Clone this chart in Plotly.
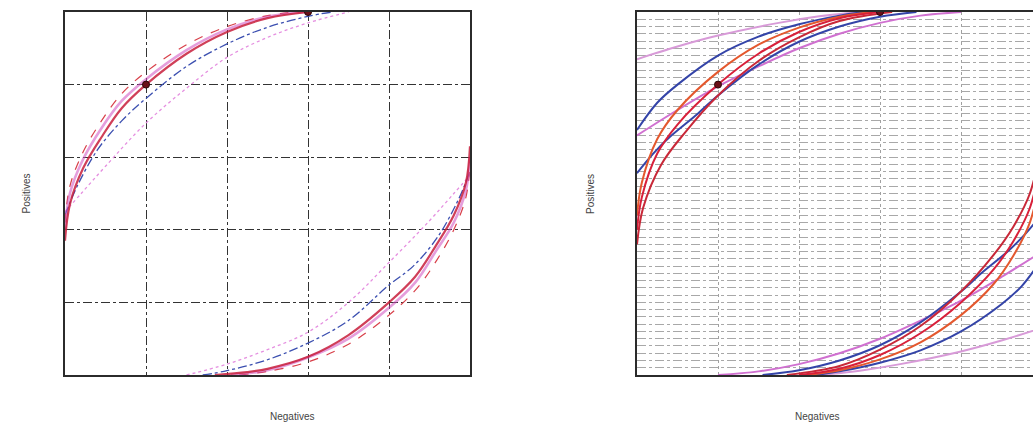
import plotly.graph_objects as go

W, H = 1033, 430

# ---------------- LEFT PANEL DATA (upper-left arc / lower-right arc) ----------------
L_red_ul_x = [0.0, 0.012, 0.045, 0.09, 0.14, 0.2, 0.3, 0.4, 0.5, 0.6]
L_red_ul_y = [0.37, 0.47, 0.57, 0.655, 0.735, 0.80, 0.885, 0.945, 0.983, 1.0]
L_red_lr_x = [0.37, 0.45, 0.5, 0.6, 0.7, 0.8, 0.864, 0.914, 0.96, 0.99, 1.0]
L_red_lr_y = [0.0, 0.008, 0.017, 0.05, 0.11, 0.20, 0.27, 0.353, 0.44, 0.53, 0.63]

L_redd_ul_x = [0.0, 0.012, 0.045, 0.09, 0.14, 0.2, 0.3, 0.4, 0.5, 0.57]
L_redd_ul_y = [0.42, 0.52, 0.615, 0.70, 0.775, 0.835, 0.91, 0.96, 0.99, 1.0]
L_redd_lr_x = [0.43, 0.5, 0.6, 0.7, 0.8, 0.87, 0.92, 0.96, 0.99, 1.0]
L_redd_lr_y = [0.0, 0.01, 0.036, 0.085, 0.165, 0.24, 0.32, 0.40, 0.49, 0.58]

L_mag_ul_x = [0.0, 0.012, 0.045, 0.09, 0.14, 0.2, 0.3, 0.4, 0.5, 0.59]
L_mag_ul_y = [0.40, 0.50, 0.595, 0.68, 0.755, 0.815, 0.895, 0.952, 0.987, 1.0]
L_mag_lr_x = [0.41, 0.5, 0.6, 0.7, 0.8, 0.865, 0.915, 0.96, 0.99, 1.0]
L_mag_lr_y = [0.0, 0.013, 0.048, 0.1, 0.185, 0.255, 0.34, 0.42, 0.51, 0.60]

L_blue_ul_x = [0.0, 0.03, 0.08, 0.14, 0.2, 0.3, 0.4, 0.5, 0.6, 0.66]
L_blue_ul_y = [0.44, 0.52, 0.62, 0.70, 0.762, 0.85, 0.912, 0.958, 0.988, 1.0]
L_blue_lr_x = [0.34, 0.4, 0.5, 0.6, 0.7, 0.8, 0.86, 0.92, 0.97, 1.0]
L_blue_lr_y = [0.0, 0.012, 0.042, 0.088, 0.15, 0.248, 0.30, 0.38, 0.48, 0.56]

L_pink_ul_x = [0.0, 0.04, 0.1, 0.2, 0.3, 0.4, 0.5, 0.6, 0.7]
L_pink_ul_y = [0.45, 0.50, 0.575, 0.694, 0.79, 0.875, 0.93, 0.97, 1.0]
L_pink_lr_x = [0.3, 0.4, 0.5, 0.6, 0.7, 0.8, 0.9, 0.96, 1.0]
L_pink_lr_y = [0.0, 0.03, 0.07, 0.118, 0.2, 0.31, 0.425, 0.5, 0.55]

# ---------------- RIGHT PANEL DATA ----------------
R_bo_ul_x = [0.0, 0.05, 0.1, 0.2, 0.3, 0.4, 0.5, 0.56]
R_bo_ul_y = [0.675, 0.75, 0.80, 0.88, 0.932, 0.966, 0.99, 1.0]
R_bo_lr_x = [0.44, 0.5, 0.6, 0.7, 0.8, 0.9, 0.95, 1.0]
R_bo_lr_y = [0.0, 0.01, 0.034, 0.068, 0.12, 0.195, 0.245, 0.32]

R_or_ul_x = [0.0, 0.012, 0.05, 0.1, 0.2, 0.3, 0.4, 0.5, 0.58]
R_or_ul_y = [0.44, 0.53, 0.65, 0.73, 0.835, 0.91, 0.957, 0.987, 1.0]
R_or_lr_x = [0.42, 0.5, 0.6, 0.7, 0.8, 0.88, 0.93, 0.97, 1.0]
R_or_lr_y = [0.0, 0.013, 0.043, 0.09, 0.165, 0.25, 0.33, 0.42, 0.56]

R_rd_ul_x = [0.0, 0.012, 0.05, 0.1, 0.2, 0.3, 0.4, 0.5, 0.6]
R_rd_ul_y = [0.40, 0.49, 0.61, 0.69, 0.80, 0.885, 0.945, 0.983, 1.0]
R_rd_lr_x = [0.4, 0.5, 0.6, 0.7, 0.8, 0.88, 0.93, 0.97, 1.0]
R_rd_lr_y = [0.0, 0.017, 0.055, 0.115, 0.20, 0.29, 0.37, 0.46, 0.60]

R_cr_ul_x = [0.0, 0.015, 0.06, 0.12, 0.2, 0.3, 0.4, 0.5, 0.63]
R_cr_ul_y = [0.36, 0.46, 0.58, 0.67, 0.77, 0.865, 0.93, 0.975, 1.0]
R_cr_lr_x = [0.37, 0.5, 0.6, 0.7, 0.8, 0.88, 0.93, 0.97, 1.0]
R_cr_lr_y = [0.0, 0.025, 0.07, 0.135, 0.23, 0.33, 0.41, 0.50, 0.64]

R_bi_ul_x = [0.0, 0.04, 0.08, 0.15, 0.2, 0.3, 0.4, 0.5, 0.6, 0.69]
R_bi_ul_y = [0.556, 0.61, 0.655, 0.72, 0.77, 0.855, 0.918, 0.96, 0.987, 1.0]
R_bi_lr_x = [0.31, 0.4, 0.5, 0.6, 0.7, 0.8, 0.85, 0.92, 0.96, 1.0]
R_bi_lr_y = [0.0, 0.013, 0.04, 0.082, 0.145, 0.23, 0.28, 0.345, 0.39, 0.444]

R_pu_ul_x = [0.0, 0.1, 0.2, 0.35, 0.45, 0.55]
R_pu_ul_y = [0.87, 0.905, 0.935, 0.97, 0.988, 1.0]
R_pu_lr_x = [0.45, 0.55, 0.65, 0.8, 0.9, 1.0]
R_pu_lr_y = [0.0, 0.012, 0.03, 0.065, 0.095, 0.13]

R_pl_ul_x = [0.0, 0.1, 0.2, 0.3, 0.4, 0.5, 0.6, 0.7, 0.8]
R_pl_ul_y = [0.66, 0.73, 0.795, 0.85, 0.90, 0.94, 0.97, 0.99, 1.0]
R_pl_lr_x = [0.2, 0.3, 0.4, 0.5, 0.6, 0.7, 0.8, 0.9, 1.0]
R_pl_lr_y = [0.0, 0.01, 0.03, 0.06, 0.10, 0.15, 0.205, 0.27, 0.34]

point_x = [0.2, 0.6]
point_y = [0.8, 1.0]

# ---------------- LAYOUT GEOMETRY ----------------
L_x0, L_x1 = 65, 470
R_x0, R_x1 = 637, 1033
Y_top, Y_bot = 12, 375
R_range_max = (R_x1 - R_x0) / (L_x1 - L_x0)

fig = go.Figure()

def add(x, y, color, width, dash="solid", axis="", opacity=1.0):
    fig.add_trace(go.Scatter(
        x=x, y=y, mode="lines", xaxis="x" + axis, yaxis="y" + axis,
        line=dict(color=color, width=width, dash=dash, shape="spline", smoothing=1.0),
        opacity=opacity, showlegend=False, hoverinfo="skip"))

# left panel
add(L_pink_ul_x, L_pink_ul_y, "#e58fe0", 1.3, "dot")
add(L_pink_lr_x, L_pink_lr_y, "#e58fe0", 1.3, "dot")
add(L_blue_ul_x, L_blue_ul_y, "#3b4fb0", 1.3, "dashdot")
add(L_blue_lr_x, L_blue_lr_y, "#3b4fb0", 1.3, "dashdot")
add(L_redd_ul_x, L_redd_ul_y, "#d8404a", 1.2, "dash")
add(L_redd_lr_x, L_redd_lr_y, "#d8404a", 1.2, "dash")
add(L_mag_ul_x, L_mag_ul_y, "#d050c0", 2.6, "solid", opacity=0.55)
add(L_mag_lr_x, L_mag_lr_y, "#d050c0", 2.6, "solid", opacity=0.55)
add(L_red_ul_x, L_red_ul_y, "#c81e3c", 2.2, "solid", opacity=0.85)
add(L_red_lr_x, L_red_lr_y, "#c81e3c", 2.2, "solid", opacity=0.85)
fig.add_trace(go.Scatter(x=point_x, y=point_y, mode="markers",
                         marker=dict(color="#6a0f18", size=7, line=dict(color="#2a0508", width=1)),
                         showlegend=False, hoverinfo="skip"))

# right panel
add(R_pu_ul_x, R_pu_ul_y, "#d89ad8", 2.0, axis="2")
add(R_pu_lr_x, R_pu_lr_y, "#d89ad8", 2.0, axis="2")
add(R_pl_ul_x, R_pl_ul_y, "#d070d0", 2.0, axis="2")
add(R_pl_lr_x, R_pl_lr_y, "#d070d0", 2.0, axis="2")
add(R_bo_ul_x, R_bo_ul_y, "#3444a8", 2.0, axis="2")
add(R_bo_lr_x, R_bo_lr_y, "#3444a8", 2.0, axis="2")
add(R_bi_ul_x, R_bi_ul_y, "#3444a8", 2.0, axis="2")
add(R_bi_lr_x, R_bi_lr_y, "#3444a8", 2.0, axis="2")
add(R_cr_ul_x, R_cr_ul_y, "#c82838", 2.0, axis="2")
add(R_cr_lr_x, R_cr_lr_y, "#c82838", 2.0, axis="2")
add(R_or_ul_x, R_or_ul_y, "#e4582e", 2.0, axis="2")
add(R_or_lr_x, R_or_lr_y, "#e4582e", 2.0, axis="2")
add(R_rd_ul_x, R_rd_ul_y, "#d8203a", 2.0, axis="2")
add(R_rd_lr_x, R_rd_lr_y, "#d8203a", 2.0, axis="2")
fig.add_trace(go.Scatter(x=point_x, y=point_y, mode="markers", xaxis="x2", yaxis="y2",
                         marker=dict(color="#6a0f18", size=7, line=dict(color="#2a0508", width=1)),
                         showlegend=False, hoverinfo="skip"))

ydom = [(H - Y_bot) / H, (H - Y_top) / H]
frame = "#2b2b2b"
fig.update_layout(
    width=W, height=H,
    margin=dict(l=0, r=0, t=0, b=0),
    paper_bgcolor="white", plot_bgcolor="white",
    font=dict(family="Liberation Sans, Arial, sans-serif", size=11, color="#333333"),
    xaxis=dict(domain=[L_x0 / W, L_x1 / W], range=[0, 1], dtick=0.2, tick0=0,
               showticklabels=False, ticks="", showgrid=True, gridcolor="#333333",
               griddash="dashdot", gridwidth=1, zeroline=False,
               showline=True, linecolor=frame, linewidth=1.5, mirror=True, fixedrange=True),
    yaxis=dict(domain=ydom, range=[0, 1], dtick=0.2, tick0=0,
               showticklabels=False, ticks="", showgrid=True, gridcolor="#333333",
               griddash="dashdot", gridwidth=1, zeroline=False,
               showline=True, linecolor=frame, linewidth=1.5, mirror=True, fixedrange=True),
    xaxis2=dict(domain=[R_x0 / W, 1.0], range=[0, R_range_max], dtick=0.2, tick0=0,
                showticklabels=False, ticks="", showgrid=True, gridcolor="#a0a0a0",
                griddash="dot", gridwidth=1, zeroline=False, anchor="y2",
                showline=True, linecolor=frame, linewidth=1.5, mirror=True, fixedrange=True),
    yaxis2=dict(domain=ydom, range=[0, 1], dtick=0.02, tick0=0,
                showticklabels=False, ticks="", showgrid=True, gridcolor="#a8a8a8",
                griddash="dashdot", gridwidth=1, zeroline=False, anchor="x2",
                showline=True, linecolor=frame, linewidth=1.5, mirror=False, fixedrange=True),
)

fig.add_annotation(text="Positives", x=18 / W, y=(H - 194) / H, xref="paper", yref="paper",
                   textangle=-90, showarrow=False, font=dict(size=10, color="#444444"))
fig.add_annotation(text="Negatives", x=268 / W, y=(H - 424) / H, xref="paper", yref="paper",
                   showarrow=False, font=dict(size=10, color="#444444"))
fig.add_annotation(text="Positives", x=590 / W, y=(H - 194) / H, xref="paper", yref="paper",
                   textangle=-90, showarrow=False, font=dict(size=10, color="#444444"))
fig.add_annotation(text="Negatives", x=841 / W, y=(H - 424) / H, xref="paper", yref="paper",
                   showarrow=False, font=dict(size=10, color="#444444"))

fig.write_html("out.html", config={"displayModeBar": False})
